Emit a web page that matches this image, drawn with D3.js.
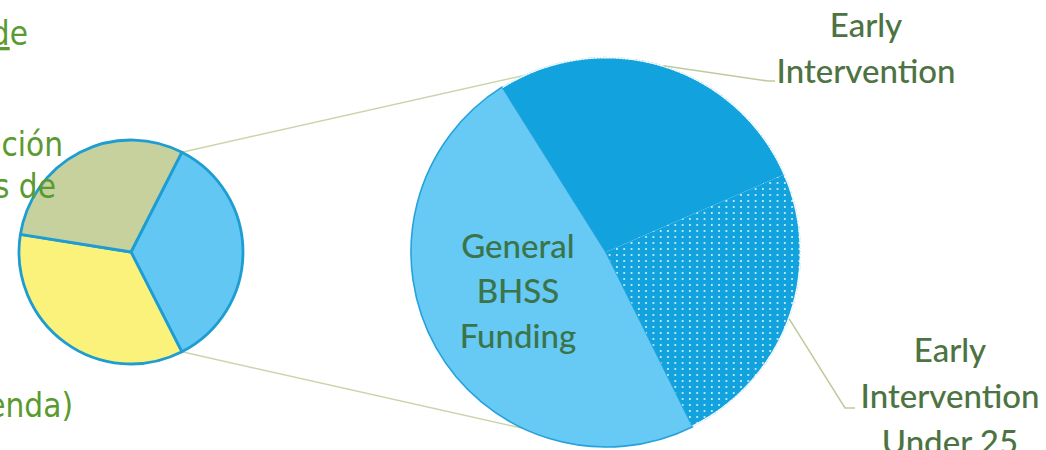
<!DOCTYPE html>
<html>
<head>
<meta charset="utf-8">
<script src="https://cdn.jsdelivr.net/npm/d3@7"></script>
<style>
  html, body { margin: 0; padding: 0; background: #ffffff; overflow: hidden; }
  svg { display: block; }
</style>
</head>
<body>
<svg id="chart" width="1046" height="450"></svg>
<script>
// Primary split of the allocation (percent)
const primaryCategories = ["BHSS", "Full Service Partnerships", "Housing Interventions"];
const primaryValues = [35, 35, 30];
const primaryColors = ["#62c8f3", "#fbf27b", "#c7d19d"];

// Breakdown of the BHSS share (percent)
const detailCategories = ["General BHSS Funding", "Early Intervention", "Early Intervention Under 25"];
const detailValues = [48.4, 27.4, 24.2];
const detailLabelLines = [
  ["General", "BHSS", "Funding"],
  ["Early", "Intervention"],
  ["Early", "Intervention", "Under 25"]
];

// Side captions running off the left edge
const sideTextLines = ["de", "ción", "s de", "enda)"];

const svg = d3.select("#chart");
const deg = Math.PI / 180;

// ---- geometry ----
const small = { cx: 131, cy: 252, r: 112, start: 27 * deg };
const big = { cx: 606, cy: 252, r: 195, start: 153.6 * deg };

const primaryPie = d3.pie().sort(null).value(d => d)
  .startAngle(small.start).endAngle(small.start + 2 * Math.PI);
const detailPie = d3.pie().sort(null).value(d => d)
  .startAngle(big.start).endAngle(big.start + 2 * Math.PI);

const primaryArcs = primaryPie(primaryValues);
const detailArcs = detailPie(detailValues);

const smallArc = d3.arc().innerRadius(0).outerRadius(small.r);
const bigArc = d3.arc().innerRadius(0).outerRadius(big.r);

const polar = (c, r, a) => [c.cx + r * Math.sin(a), c.cy - r * Math.cos(a)];

// ---- dot texture for the under-25 slice ----
const defs = svg.append("defs");
const pat = defs.append("pattern")
  .attr("id", "dots")
  .attr("patternUnits", "userSpaceOnUse")
  .attr("width", 7.3).attr("height", 6);
pat.append("rect").attr("width", 7.3).attr("height", 6).attr("fill", "#12a3df");
pat.append("circle").attr("cx", 3.6).attr("cy", 3).attr("r", 0.95).attr("fill", "#e8f7fd");

// ---- connector lines from BHSS slice to the breakdown pie ----
const bhss = primaryArcs[0];
const connectors = [
  [polar(small, small.r, bhss.startAngle), [big.cx, big.cy - big.r]],
  [polar(small, small.r, bhss.endAngle), [big.cx, big.cy + big.r]]
];
svg.append("g").selectAll("line").data(connectors).join("line")
  .attr("x1", d => d[0][0]).attr("y1", d => d[0][1])
  .attr("x2", d => d[1][0]).attr("y2", d => d[1][1])
  .attr("stroke", "#c9d6ab").attr("stroke-width", 1.5);

// ---- primary pie ----
const gSmall = svg.append("g").attr("transform", `translate(${small.cx},${small.cy})`);
gSmall.selectAll("path").data(primaryArcs).join("path")
  .attr("d", smallArc)
  .attr("fill", (d, i) => primaryColors[i])
  .attr("stroke", "#1e9dd3")
  .attr("stroke-width", 2.8)
  .attr("stroke-linejoin", "round");

// ---- breakdown pie ----
const detailFills = ["#66caf4", "#12a3df", "url(#dots)"];
const gBig = svg.append("g").attr("transform", `translate(${big.cx},${big.cy})`);
gBig.selectAll("path.slice").data(detailArcs).join("path")
  .attr("class", "slice")
  .attr("d", bigArc)
  .attr("fill", (d, i) => detailFills[i])
  .attr("stroke", (d, i) => i === 0 ? "#25a2dc" : "none")
  .attr("stroke-width", 1.6);

// soft serrated rim on the darker slices
const rimArc = d3.arc().innerRadius(big.r - 0.6).outerRadius(big.r - 0.6);
gBig.selectAll("path.rim").data(detailArcs.slice(1)).join("path")
  .attr("class", "rim")
  .attr("d", d => rimArc({ startAngle: d.startAngle, endAngle: d.endAngle }))
  .attr("fill", "none")
  .attr("stroke", "#ffffff")
  .attr("stroke-width", 1.6)
  .attr("stroke-dasharray", "1.4 1.6");

// ---- inner label for the general slice ----
const labelFont = "Lato, 'Open Sans', sans-serif";
const gc = bigArc.centroid(detailArcs[0]);
svg.append("text")
  .attr("font-family", labelFont).attr("font-size", 33).attr("font-weight", 500)
  .attr("fill", "#3c744a").attr("text-anchor", "middle")
  .selectAll("tspan").data(detailLabelLines[0]).join("tspan")
  .attr("x", big.cx + gc[0] - 3)
  .attr("y", (d, i) => big.cy + gc[1] + 3 + (i - 1) * 45)
  .text(d => d);

// ---- outside labels with leader lines ----
const outside = [
  { idx: 1, elbow: [768, 81], end: [775, 81], tx: 866, ty: [37, 83] },
  { idx: 2, elbow: [845, 408], end: [855, 408], tx: 950, ty: [362, 408, 454] }
];
outside.forEach(o => {
  const a = detailArcs[o.idx];
  const p = polar(big, big.r, (a.startAngle + a.endAngle) / 2);
  svg.append("path")
    .attr("d", d3.line()([p, o.elbow, o.end]))
    .attr("fill", "none").attr("stroke", "#bccb9c").attr("stroke-width", 1.5);
  svg.append("text")
    .attr("font-family", labelFont).attr("font-size", 33).attr("font-weight", 500)
    .attr("fill", "#4d7342").attr("text-anchor", "middle")
    .selectAll("tspan").data(detailLabelLines[o.idx]).join("tspan")
    .attr("x", o.tx).attr("y", (d, i) => o.ty[i])
    .text(d => d);
});

// ---- side captions ----
const sideFont = "'DejaVu Sans Condensed', 'DejaVu Sans', sans-serif";
const sidePos = [[28, 45], [63, 156], [56, 198], [73, 417]];
const side = svg.append("g")
  .attr("font-family", sideFont)
  .attr("font-stretch", "condensed")
  .attr("font-size", 33)
  .attr("fill", "#5a9a30").attr("text-anchor", "end");
sideTextLines.forEach((t, i) => {
  const txt = side.append("text")
    .attr("x", sidePos[i][0]).attr("y", sidePos[i][1]);
  if (i === 0) {
    txt.append("tspan").attr("text-decoration", "underline").text(t.slice(0, 1));
    txt.append("tspan").text(t.slice(1));
  } else {
    txt.text(t);
  }
});
</script>
</body>
</html>
